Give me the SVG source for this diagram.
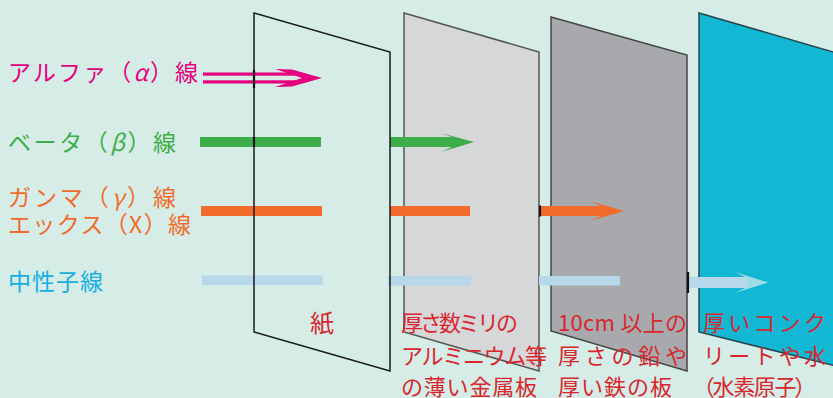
<svg xmlns="http://www.w3.org/2000/svg" width="833" height="398" viewBox="0 0 833 398">
<style>
.lbl{font-family:"Noto Sans CJK JP","Noto Sans",sans-serif;font-size:23px;}
.cap{font-family:"Noto Sans CJK JP","Noto Sans",sans-serif;font-size:22px;fill:#d9262e;}
.gr{font-style:italic;}
.palt{font-feature-settings:"palt";}
.tick{stroke:#111;stroke-width:2.2;}
</style>
<rect width="833" height="398" fill="#d5ede6"/>

<g id="plate-aluminium">
<polygon points="404,13 539,52 539,371 404,332" fill="#d6d7d9" stroke="#555" stroke-width="1.5"/>
</g>
<g id="plate-lead">
<polygon points="551,17 687,55 687,371 551,331" fill="#a8a9ac" stroke="#444" stroke-width="1.5"/>
</g>
<g id="plate-concrete">
<polygon points="699,13 840,54 840,367 699,332" fill="#12b8d3" stroke="#27474f" stroke-width="1.5"/>
</g>

<g id="connectors">
<g id="arrow-alpha" fill="#e6007e">
<rect x="203" y="72.5" width="95" height="3.2"/>
<rect x="203" y="80.3" width="95" height="3.2"/>
<polygon points="275,69 292,69.5 322,78 292,86.5 275,87 302,78"/>
</g>
<g id="arrow-beta" fill="#3dad49">
<rect x="200" y="137" width="121" height="10"/>
<path d="M390,137 H452 L441,133 L474,142 L441,152 L452,147 H390 Z"/>
</g>
<g id="arrow-gamma" fill="#f26b2c">
<rect x="201" y="206" width="121" height="10"/>
<rect x="390" y="206" width="80" height="10"/>
<path d="M540,206 H601 L590,201 L624,211 L590,221 L601,216 H540 Z"/>
</g>
<g id="arrow-neutron">
<rect x="202" y="275.5" width="121" height="9.5" fill="#b7d7ea"/>
<rect x="388" y="276" width="83" height="9.5" fill="#b7d7ea"/>
<rect x="539" y="276" width="81" height="9.5" fill="#b7d7ea"/>
<path d="M745,277 L735,272 L768,282.5 L735,293 L745,288 Z" fill="#a2dbe3"/>
<rect x="687" y="277" width="60" height="11" fill="#b7d7ea"/>
</g>
</g>

<g id="plate-paper">
<polygon points="254,13 390,52 390,371 254,332" fill="none" stroke="#1a1a1a" stroke-width="1.5"/>
</g>

<g id="crossings">
<line class="tick" x1="254" y1="70" x2="254" y2="88"/>
<line class="tick" x1="254" y1="137" x2="254" y2="147"/>
<line class="tick" x1="540" y1="205.5" x2="540" y2="216.5"/>
<line class="tick" x1="688" y1="272" x2="688" y2="293"/>
</g>

<g id="labels-rays" class="lbl">
<text x="8" y="81" fill="#e6007e" textLength="190" lengthAdjust="spacing">アルファ（<tspan class="gr">α</tspan>）線</text>
<text x="8" y="151" fill="#3dad49" textLength="168" lengthAdjust="spacing">ベータ（<tspan class="gr">β</tspan>）線</text>
<text x="8" y="206" fill="#f26b2c" textLength="168" lengthAdjust="spacing">ガンマ（<tspan class="gr">γ</tspan>）線</text>
<text x="8" y="233" fill="#f26b2c" textLength="183" lengthAdjust="spacing">エックス（X）線</text>
<text x="8" y="290" fill="#17aee3" textLength="95" lengthAdjust="spacing">中性子線</text>
</g>

<g id="labels-materials">
<text class="cap" x="310" y="332" style="font-size:24px">紙</text>
<text class="cap" x="401" y="331" textLength="117" lengthAdjust="spacing">厚さ数ミリの</text>
<text class="cap" x="401" y="364" textLength="146" lengthAdjust="spacing">アルミニウム等</text>
<text class="cap" x="401" y="395" textLength="136" lengthAdjust="spacing">の薄い金属板</text>
<text class="cap" x="558" y="331" textLength="129" lengthAdjust="spacing">10cm 以上の</text>
<text class="cap" x="558" y="364" textLength="129" lengthAdjust="spacing">厚さの鉛や</text>
<text class="cap" x="558" y="395" textLength="114" lengthAdjust="spacing">厚い鉄の板</text>
<text class="cap" x="703" y="331" textLength="123" lengthAdjust="spacing">厚いコンク</text>
<text class="cap" x="703" y="364" textLength="123" lengthAdjust="spacing">リートや水</text>
<text class="cap palt" x="703" y="395" textLength="103" lengthAdjust="spacing">（水素原子）</text>
</g>
</svg>
